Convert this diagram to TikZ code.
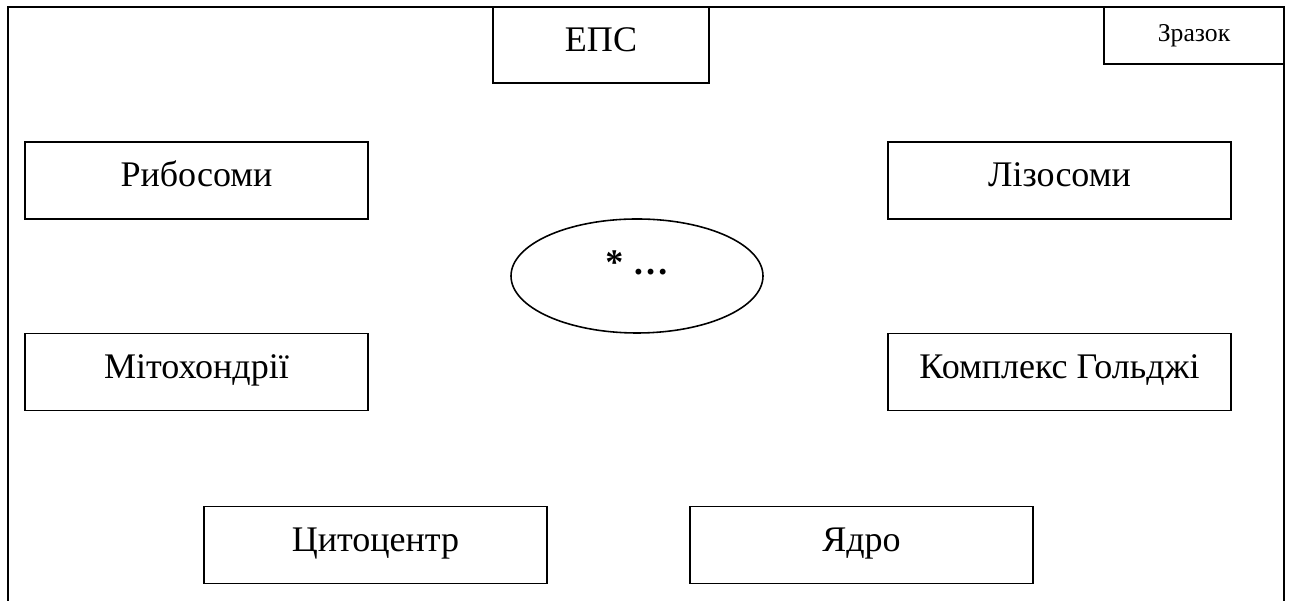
\documentclass[tikz,border=0pt]{standalone}
\usepackage{fontspec}
\setmainfont{Liberation Serif}
\usetikzlibrary{shapes.geometric}
\begin{document}
\begin{tikzpicture}[
        organel/.style={draw,line width=1.1pt,inner sep=0pt,minimum width=6.86cm,minimum height=1.54cm,
            font=\fontsize{20.5}{24}\selectfont,text height=13.9pt,text depth=6.6pt},
        tagbox/.style={draw,line width=1.1pt,inner sep=0pt,minimum width=3.6cm,minimum height=1.14cm,
            font=\fontsize{14.6}{17}\selectfont,text height=10pt,text depth=2.6pt},
        cellbox/.style={draw,ellipse,line width=0.9pt,inner sep=0pt,minimum width=5.04cm,minimum height=2.28cm,
            font=\fontsize{20.5}{24}\selectfont\bfseries,text height=10pt,text depth=12.2pt}]
        \useasboundingbox (0,0) rectangle (25.84,12.02);
        % cornice
        \draw [-,line width=1.5pt] (0.16,0) -- (0.16,11.88) -- (25.68,11.88) -- (25.68,0);
        % in alto
        \node [organel,minimum width=4.32cm,minimum height=1.52cm] (eps) at (12.02,11.12) {ЕПС};
        \node [tagbox] (zrazok) at (23.88,11.31) {Зразок};
        % organoidi
        \node [organel] (ribo) at (3.93,8.41) {Рибосоми};
        \node [organel] (lizo) at (21.19,8.41) {Лізосоми};
        \node [organel] (mito) at (3.93,4.58) {Мітохондрії};
        \node [organel] (goldzhi) at (21.19,4.58) {Комплекс Гольджі};
        \node [organel] (tsyto) at (7.51,1.12) {Цитоцентр};
        \node [organel] (yadro) at (17.23,1.12) {Ядро};
        % centro
        \node [cellbox] (cell) at (12.74,6.5) {* …};
    \end{tikzpicture}
\end{document}
